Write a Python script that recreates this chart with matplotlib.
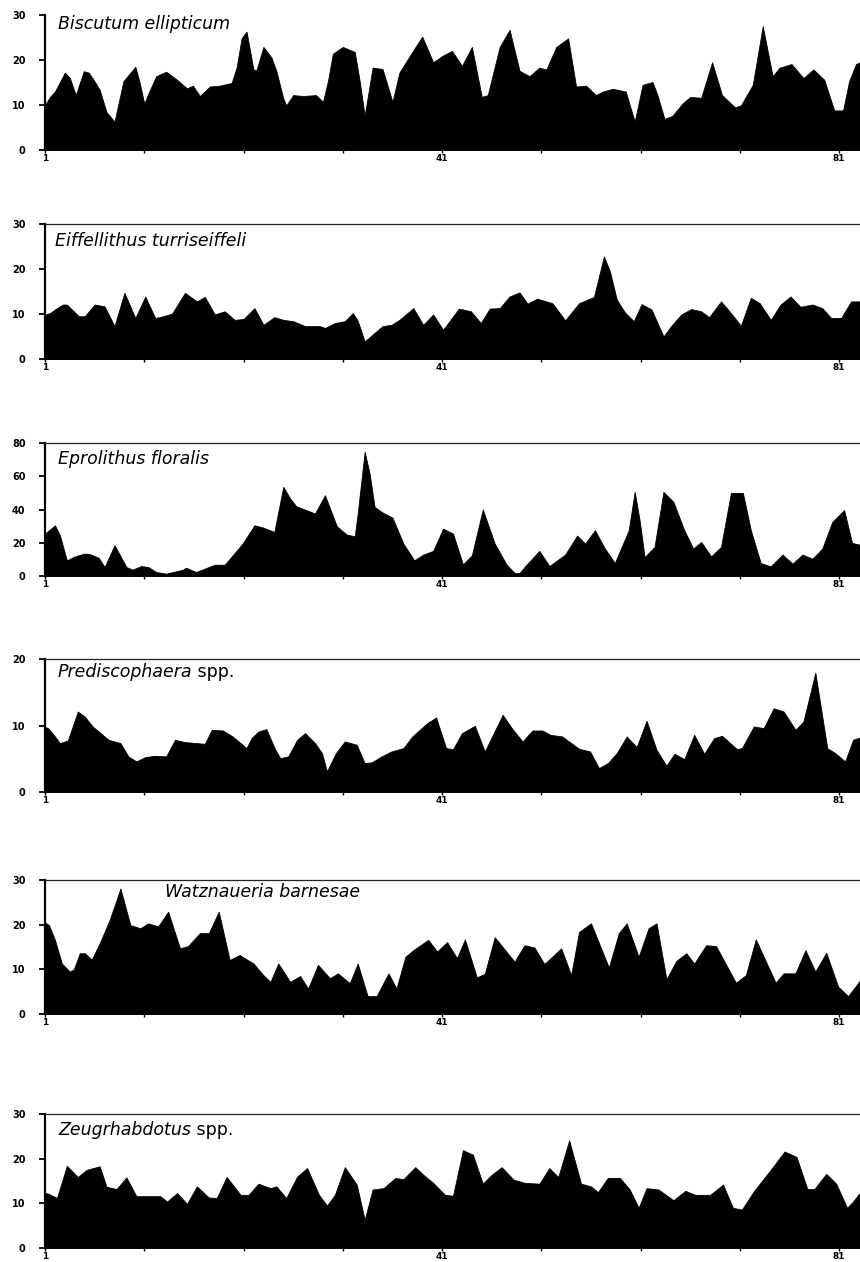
import matplotlib
matplotlib.use("Agg")
import matplotlib.pyplot as plt
from matplotlib.ticker import FixedLocator

plt.rcParams['font.family'] = ['DejaVu Sans']

# ---------------- data (sample number vs. abundance %) ----------------
bis_x = [1, 1.5, 2, 3, 3.5, 4.1, 4.9, 5.4, 5.9, 6.5, 7.2, 8, 8.9, 10.1, 10.5, 11, 11.5, 12.2, 13.2, 14.3,
         15.3, 15.9, 16.6, 17.6, 18.6, 19.8, 20.3, 20.8, 21.3, 22, 22.3, 23, 23.8, 24.3, 25, 25.3, 26, 27,
         28.3, 29, 29.5, 30, 31, 32.2, 32.7, 33.2, 34, 35, 36, 36.7, 38, 39, 40.1, 41.1, 42, 43, 44, 45,
         45.6, 46.8, 47.8, 48.8, 49.8, 50.8, 51.5, 52.5, 53.7, 54.5, 55.5, 56.5, 57.2, 58.2, 59.5, 60.4,
         61.2, 62.2, 62.7, 63.4, 64.2, 65.2, 66, 67.1, 68.2, 69.2, 70.5, 71.1, 72.3, 73.3, 74.3, 75, 76.2,
         77.4, 78.4, 79.5, 80.5, 81.4, 82, 82.7, 83.1]
bis_y = [10, 11.8, 13, 17.2, 16, 12.2, 17.5, 17.2, 15.6, 13.4, 8.4, 6.3, 15.3, 18.5, 15.3, 10.3, 13, 16.4, 17.4, 15.6,
         13.7, 14.3, 12, 14.1, 14.3, 14.9, 18.3, 24.8, 26.3, 17.9, 17.7, 22.9, 20.6, 17.6, 11.5, 9.9, 12.2, 12,
         12.2, 10.7, 15.3, 21.4, 22.9, 21.8, 15.3, 7.6, 18.3, 18, 10.7, 17.2, 21.8, 25.2, 19.5, 21, 22, 18.7, 22.9, 11.8,
         12.2, 22.9, 26.7, 17.6, 16.4, 18.3, 17.9, 22.9, 24.8, 14.1, 14.3, 12.2, 13, 13.6, 13, 6.3,
         14.5, 15.1, 12.2, 6.9, 7.6, 10.3, 11.8, 11.6, 19.5, 12.2, 9.5, 9.9, 14.5, 27.5, 16.4, 18.3, 19.1,
         16, 17.9, 15.6, 8.8, 8.8, 15.3, 19.1, 19.5]

eif_x = [1, 1.5, 2.2, 2.8, 3.2, 4.4, 5, 6, 7, 8, 9, 10.1, 11.1, 12.1, 12.9, 13.8, 15.1, 16.3, 17.1, 18.1,
         19.1, 20.1, 21, 22.1, 23, 24.1, 25, 26, 27.2, 28.7, 29.2, 30.2, 31.2, 32, 32.5, 33.2, 34.2, 35,
         35.9, 36.7, 38.1, 39.1, 40.1, 41.1, 42.7, 43.9, 44.9, 45.8, 46.8, 47.8, 48.8, 49.6, 50.6, 52.1,
         53.4, 54.8, 56.3, 57.3, 57.9, 58.6, 59.4, 60.3, 61.1, 62.1, 63.3, 64.1, 65.1, 66.1, 67.1, 67.9,
         69.1, 70.1, 71.1, 72.1, 73, 74.1, 75.1, 76.1, 77.1, 78.3, 79.3, 80.2, 81.2, 82.2, 83.1]
eif_y = [9.9, 10.2, 11.3, 12.1, 12.1, 9.5, 9.5, 12.1, 11.7, 7.3, 14.7, 9.1, 13.9, 9.1, 9.5, 10.1, 14.7, 12.8, 13.8, 9.9,
         10.6, 8.7, 8.9, 11.3, 7.6, 9.3, 8.7, 8.4, 7.3, 7.3, 6.9, 8, 8.4, 10.2, 8.5, 3.9, 5.8, 7.3,
         7.6, 8.7, 11.3, 7.6, 9.9, 6.5, 11.2, 10.6, 8, 11.2, 11.3, 13.9, 14.8, 12.3, 13.4, 12.4,
         8.6, 12.4, 13.8, 22.8, 19.5, 13.2, 10.4, 8.4, 12.2, 11, 5, 7.4, 9.9, 11.1, 10.6, 9.3,
         12.8, 10.2, 7.4, 13.6, 12.4, 8.7, 12.1, 13.9, 11.6, 12.1, 11.3, 9.1, 9.1, 12.8, 12.8]

epr_x = [1, 1.6, 2, 2.5, 3.2, 4, 5, 5.5, 6.4, 7, 8, 9.2, 9.8, 10.7, 11.4, 12.2, 13.2, 13.9, 14.9, 15.2,
         16.2, 16.9, 18.1, 19.1, 19.9, 20.9, 22.1, 23, 24.1, 25, 25.7, 26.3, 28.2, 29.2, 30.4, 31.4, 32.2,
         32.5, 33.2, 33.7, 34.2, 35, 36, 37.1, 38.2, 39.1, 40.1, 41.1, 42.1, 43.1, 44, 45.1, 46.3, 47.5,
         48.3, 48.8, 49.5, 50.8, 51.8, 53.4, 54.6, 55.4, 56.4, 57.4, 58.4, 59.8, 60.4, 60.9, 61.4, 62.4,
         63.3, 64.3, 65.4, 66.3, 67.1, 68.1, 69.1, 70.1, 71.3, 72.1, 73.1, 74.1, 75.3, 76.3, 77.3, 78.3,
         79.3, 80.3, 81.5, 82.3, 83.1]
epr_y = [25.5, 28.5, 30.5, 24.5, 9.4, 11.8, 13.5, 13.2, 11, 5.4, 18.5, 5.4, 3.8, 6, 5.4, 2.4, 1.4, 2.4, 3.8, 5,
         2.4, 4, 6.8, 6.8, 12.4, 19.5, 30.5, 29.1, 26.5, 53.6, 46.6, 42, 37.6, 48.6, 29.9, 24.9, 23.9,
         37.6, 74.7, 61.6, 41.6, 38.2, 35.1, 19.5, 9.4, 12.9, 15.1, 28.5, 25.5, 7, 12.4, 40, 19.5, 6.8,
         1.8, 1.8, 6.8, 15.1, 6, 12.9, 24.3, 19.5, 27.5, 16.5, 7.8, 27.5, 50.6, 33.5, 11.4, 17.5,
         50.6, 44.6, 27.5, 16.5, 20.5, 11.8, 17.5, 50, 50, 27.5, 7.8, 5.8, 12.9, 7.4, 12.9, 10.4,
         16.5, 32.5, 39.6, 19.9, 18.8]

pre_x = [1, 1.3, 1.8, 2.5, 3.3, 4.3, 5, 5.8, 6.8, 7.4, 8.6, 9.4, 10.2, 11.1, 12.1, 13.2, 14.1, 15.1, 17.1,
         17.8, 18.9, 19.9, 21.3, 21.8, 22.5, 23.3, 24.2, 24.7, 25.5, 26.4, 27.2, 28.2, 28.9, 29.4, 30.3,
         31.2, 32.4, 33.2, 33.9, 34.9, 35.9, 37.1, 38, 39.5, 40.4, 41.4, 42.1, 43, 44.3, 45.3, 47.1, 48.1,
         49.1, 50.1, 51.1, 51.9, 53.1, 54.8, 55.9, 56.8, 57.7, 58.6, 59.6, 60.6, 61.6, 62.6, 63.6, 64.4,
         65.4, 66.4, 67.4, 68.4, 69.2, 70.7, 71.2, 72.4, 73.4, 74.4, 75.4, 76.6, 77.4, 78.6, 79.8, 80.6,
         81.6, 82.4, 83.1]
pre_y = [9.8, 9.6, 8.75, 7.35, 7.75, 12.1, 11.35, 9.85, 8.6, 7.85, 7.35, 5.35, 4.6, 5.25, 5.45, 5.35, 7.85, 7.5, 7.25,
         9.35, 9.25, 8.35, 6.6, 8.1, 9.1, 9.45, 6.35, 5.1, 5.35, 7.85, 8.85, 7.35, 5.85, 3.1, 5.85,
         7.6, 7.1, 4.35, 4.45, 5.35, 6.1, 6.6, 8.35, 10.35, 11.2, 6.6, 6.45, 8.85, 9.95, 6.1, 11.6, 9.45,
         7.6, 9.25, 9.25, 8.6, 8.35, 6.5, 6.1, 3.6, 4.35, 5.85, 8.35, 6.75, 10.7, 6.35, 3.95, 5.75,
         4.95, 8.6, 5.75, 8.1, 8.45, 6.45, 6.6, 9.85, 9.6, 12.6, 12.1, 9.35, 10.6, 17.95, 6.6, 5.85,
         4.6, 7.85, 8.2]

wat_x = [1, 1.4, 2, 2.7, 3.5, 3.9, 4.5, 5, 5.7, 6.5, 7.5, 8.6, 9.6, 10.6, 11.4, 12.4, 13.4, 14.6, 15.4,
         16.6, 17.5, 18.5, 19.6, 20.6, 22, 23, 23.7, 24.5, 25.7, 26.7, 27.5, 28.5, 29.7, 30.5, 31.7, 32.5,
         33.5, 34.4, 35.6, 36.4, 37.3, 38.1, 39.6, 40.5, 41.5, 42.5, 43.3, 44.5, 45.3, 46.3, 48.3, 49.3,
         50.3, 51.3, 53, 54, 54.8, 56, 57.8, 58.8, 59.6, 60.8, 61.8, 62.6, 63.6, 64.6, 65.6, 66.4, 67.6,
         68.6, 70.6, 71.6, 72.6, 74.6, 75.4, 76.6, 77.6, 78.6, 79.7, 80.9, 81.9, 83.1]
wat_y = [20.5, 19.9, 16.6, 11.3, 9.5, 10, 13.6, 13.6, 12.2, 15.8, 21, 28.1, 19.9, 19.2, 20.3, 19.6, 22.9, 14.7, 15.2,
         18.1, 18.1, 22.9, 12.1, 13.2, 11.3, 8.7, 7.2, 11.3, 7.2, 8.5, 5.7, 11, 8, 9.1, 6.9, 11.3,
         4, 4, 9.1, 5.7, 12.8, 14.3, 16.6, 14, 16.1, 12.5, 16.7, 8.2, 9, 17.2, 11.7, 15.4,
         14.9, 11.2, 14.7, 8.7, 18.4, 20.3, 10.4, 18.1, 20.3, 12.8, 19.2, 20.3, 7.8, 11.9, 13.6, 11.3, 15.4,
         15.2, 7, 8.7, 16.7, 7, 9.1, 9.1, 14.3, 9.5, 13.7, 6.1, 4, 7.5]

zeu_x = [1, 1.3, 2.2, 3.2, 4.3, 5.2, 6.5, 7.2, 8.2, 9.2, 10.2, 12.6, 13.3, 14.3, 15.3, 16.3, 17.5, 18.3,
         19.3, 20.7, 21.5, 22.5, 23.7, 24.3, 25.3, 26.4, 27.4, 28.6, 29.4, 30.2, 31.2, 32.4, 33.2, 34,
         35.1, 36.3, 37.1, 38.3, 39.1, 40.1, 41.3, 42.1, 43.1, 44.1, 45.1, 46, 47, 48.2, 49.3, 50.8,
         51.8, 52.7, 53.8, 55, 56, 56.7, 57.7, 58.9, 59.9, 60.8, 61.6, 62.8, 64.3, 65.5, 66.5, 68, 69.3,
         70.3, 71.2, 72.4, 74, 75.5, 76.7, 77.8, 78.5, 79.7, 80.7, 81.8, 82.4, 83.1]
zeu_y = [12.3, 12.2, 11.2, 18.4, 15.9, 17.5, 18.3, 13.7, 13.2, 15.8, 11.6, 11.6, 10.4, 12.3, 9.9, 13.8, 11.3, 11.2,
         15.9, 11.9, 11.9, 14.4, 13.4, 13.8, 11.2, 16, 17.9, 11.9, 9.5, 11.9, 18.1, 14.2, 6.3, 13.1,
         13.4, 15.7, 15.4, 18.1, 16.4, 14.6, 11.9, 11.7, 21.9, 20.9, 14.4, 16.4, 18.1, 15.3, 14.6, 14.4,
         17.9, 15.9, 24.1, 14.4, 13.8, 12.5, 15.7, 15.7, 13.1, 9, 13.4, 13.1, 10.7, 12.8, 11.9, 11.9, 14.2,
         9, 8.6, 12.7, 17.2, 21.6, 20.4, 13.2, 13.2, 16.6, 14.4, 9, 10.4, 12.4]

names = ["Biscutum ellipticum", "Eiffellithus turriseiffeli", "Eprolithus floralis",
         "Prediscophaera", "Watznaueria barnesae", "Zeugrhabdotus"]
name_suffix = ["", "", "", " spp.", "", " spp."]
ymaxes = [30, 30, 80, 20, 30, 30]
yticks = [[0, 10, 20, 30], [0, 10, 20, 30], [0, 20, 40, 60, 80], [0, 10, 20], [0, 10, 20, 30], [0, 10, 20, 30]]
xticklabels = ["1", "41", "81"]
xtick_pos = [1, 41, 81]
series = [(bis_x, bis_y), (eif_x, eif_y), (epr_x, epr_y), (pre_x, pre_y), (wat_x, wat_y), (zeu_x, zeu_y)]

# ---------------- layout ----------------
W, H = 860, 1262
fig = plt.figure(figsize=(W / 100, H / 100), dpi=100)
tops = [15, 224, 443, 659, 880, 1114]
bottoms = [150, 359, 576, 792, 1014, 1248]
left_px = 45
label_xy = [(58, 24), (55, 241), (58, 459), (58, 672), (165, 892), (58, 1130)]

for i in range(6):
    t, b = tops[i], bottoms[i]
    ax = fig.add_axes([left_px / W, 1 - b / H, (W - left_px) / W, (b - t) / H])
    x, y = series[i]
    ax.fill_between(x, y, 0, color='black', linewidth=0.6, edgecolor='black')
    ax.set_xlim(1, 83.1)
    ax.set_ylim(0, ymaxes[i])
    ax.spines['right'].set_visible(False)
    ax.spines['left'].set_linewidth(1.6)
    ax.spines['bottom'].set_linewidth(1.2)
    if i == 0:
        ax.spines['top'].set_visible(False)
    else:
        ax.spines['top'].set_linewidth(0.9)
        ax.spines['top'].set_color('#222222')
    ax.set_yticks(yticks[i])
    ax.set_yticklabels([str(v) for v in yticks[i]], fontsize=7, fontweight='bold')
    ax.tick_params(axis='y', direction='out', length=4, width=1.3, pad=10)
    ax.set_xticks(xtick_pos)
    ax.set_xticklabels(xticklabels, fontsize=6.5, fontweight='bold')
    ax.xaxis.set_minor_locator(FixedLocator([11, 21, 31, 51, 61, 71]))
    ax.tick_params(axis='x', which='both', direction='out', length=2, width=1, pad=1)

    lx, ly = label_xy[i]
    tx = fig.text(lx / W, 1 - ly / H, names[i], fontsize=12.5, style='italic',
                  va='center', ha='left')
    if name_suffix[i]:
        fig.canvas.draw()
        bb = tx.get_window_extent()
        fig.text(bb.x1 / W, 1 - ly / H, name_suffix[i], fontsize=12.5, va='center', ha='left')

fig.savefig("out.png", dpi=100)
